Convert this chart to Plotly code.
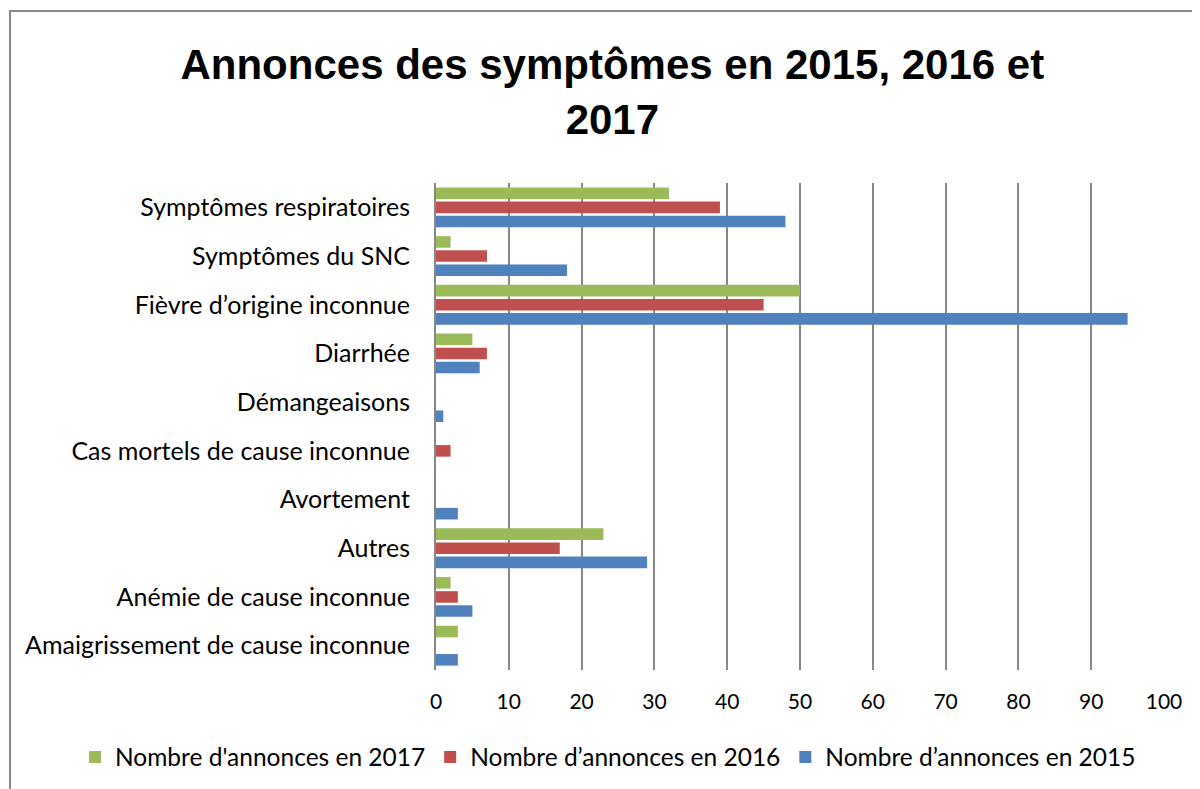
import plotly.graph_objects as go

categories = [
    "Amaigrissement de cause inconnue",
    "Anémie de cause inconnue",
    "Autres",
    "Avortement",
    "Cas mortels de cause inconnue",
    "Démangeaisons",
    "Diarrhée",
    "Fièvre d’origine inconnue",
    "Symptômes du SNC",
    "Symptômes respiratoires",
]
v2015 = [3, 5, 29, 3, 0, 1, 6, 95, 18, 48]
v2016 = [0, 3, 17, 0, 2, 0, 7, 45, 7, 39]
v2017 = [3, 2, 23, 0, 0, 0, 5, 50, 2, 32]

names = ["Nombre d’annonces en 2015", "Nombre d’annonces en 2016", "Nombre d'annonces en 2017"]
colors = ["#4F81BD", "#C0504D", "#9BBB59"]

fig = go.Figure()
for vals, name, col in zip([v2015, v2016, v2017], names, colors):
    fig.add_trace(go.Bar(
        y=categories, x=vals, name=name, orientation="h",
        marker=dict(color=col, line=dict(width=0)),
    ))

# page is drawn with an 8px body margin: work in figure pixels
OFF = 8
W, H = 1200 - OFF, 789 - OFF
L, R, T, B = 436 - OFF, 36, 183 - OFF, 119
pw, ph = W - L - R, H - T - B

def px_x(p):
    return (p - OFF - L) / pw

def px_y(p):
    return (H - B - (p - OFF)) / ph

fig.update_layout(
    width=W, height=H,
    margin=dict(l=L, r=R, t=T, b=B, autoexpand=False),
    paper_bgcolor="white", plot_bgcolor="white",
    barmode="group", bargap=0.13, bargroupgap=0.18,
    font=dict(family="Lato, Open Sans, sans-serif", color="black", size=24),
    title=dict(
        text="<b>Annonces des symptômes en 2015, 2016 et<br>2017</b>",
        x=0.507, xanchor="center", y=0.909, yanchor="middle",
        font=dict(family="Liberation Sans, Arial, sans-serif", size=42, color="black"),
    ),
    xaxis=dict(
        range=[0, 100], dtick=10, showgrid=True, gridcolor="#878787", gridwidth=2,
        zeroline=False, showline=False, ticks="outside", ticklen=13, tickcolor="white",
        tickfont=dict(size=21), fixedrange=True, automargin=False,
    ),
    yaxis=dict(
        showgrid=False, showline=True, linecolor="#878787", linewidth=2,
        ticks="", tickfont=dict(size=25), ticklabelstandoff=19, automargin=False,
    ),
    legend=dict(
        orientation="h", x=px_x(75), xanchor="left", y=px_y(757), yanchor="middle",
        traceorder="reversed", font=dict(size=24.5), itemwidth=30,
    ),
    showlegend=True,
)

fig.add_shape(
    type="rect", xref="paper", yref="paper",
    x0=px_x(10), x1=px_x(1230), y0=px_y(820), y1=px_y(11),
    line=dict(color="#878787", width=2), fillcolor="rgba(0,0,0,0)", layer="below",
)

fig.write_html("out.html")
